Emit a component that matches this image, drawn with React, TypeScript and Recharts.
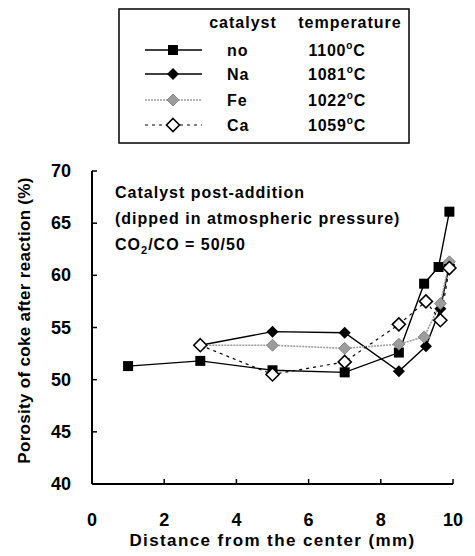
import React from "react";
import { ComposedChart, Line, XAxis, YAxis, Customized } from "recharts";

// porosity (%) vs. distance from the center (mm), one pair of arrays per catalyst
const distNo = [1, 3, 5, 7, 8.5, 9.2, 9.6, 9.9];
const porNo = [51.3, 51.8, 50.9, 50.7, 52.6, 59.2, 60.8, 66.1];
const distNa = [3, 5, 7, 8.5, 9.25, 9.65, 9.9];
const porNa = [53.3, 54.6, 54.5, 50.8, 53.2, 56.8, 61.0];
const distFe = [3, 5, 7, 8.5, 9.2, 9.65, 9.9];
const porFe = [53.3, 53.3, 53.0, 53.4, 54.1, 57.3, 61.3];
const distCa = [3, 5, 7, 8.5, 9.25, 9.65, 9.9];
const porCa = [53.3, 50.5, 51.7, 55.3, 57.5, 55.7, 60.7];

const catalysts = ["no", "Na", "Fe", "Ca"];
const temperatures = [1100, 1081, 1022, 1059];

const xTicks = [0, 2, 4, 6, 8, 10];
const yTicks = [40, 45, 50, 55, 60, 65, 70];

const FONT = "'Liberation Sans', Arial, sans-serif";
const GRAY = "#9c9c9c";

const pts = (xs: number[], ys: number[]) => xs.map((x, i) => ({ x, y: ys[i] }));

type Marker = "square" | "diamond" | "grayDiamond" | "openDiamond";

function drawMarker(kind: Marker, cx: number, cy: number, key?: string | number) {
  if (kind === "square") {
    return <rect key={key} x={cx - 5} y={cy - 5} width={10} height={10} fill="#000" />;
  }
  const r = kind === "openDiamond" ? 6.5 : 6;
  const d = `M${cx},${cy - r}L${cx + r},${cy}L${cx},${cy + r}L${cx - r},${cy}Z`;
  if (kind === "diamond") return <path key={key} d={d} fill="#000" />;
  if (kind === "grayDiamond") return <path key={key} d={d} fill={GRAY} stroke="#777" strokeWidth={0.8} />;
  return <path key={key} d={d} fill="#fff" stroke="#000" strokeWidth={1.6} />;
}

const series = [
  { name: catalysts[0], temp: temperatures[0], data: pts(distNo, porNo), stroke: "#000", width: 1.4, dash: undefined, marker: "square" as Marker },
  { name: catalysts[1], temp: temperatures[1], data: pts(distNa, porNa), stroke: "#000", width: 1.4, dash: undefined, marker: "diamond" as Marker },
  { name: catalysts[2], temp: temperatures[2], data: pts(distFe, porFe), stroke: GRAY, width: 1.6, dash: "2 1", marker: "grayDiamond" as Marker },
  { name: catalysts[3], temp: temperatures[3], data: pts(distCa, porCa), stroke: "#000", width: 1.2, dash: "3 4", marker: "openDiamond" as Marker },
];

const txt = { fontFamily: FONT, fontWeight: 700, fill: "#000" } as const;

function LegendBox() {
  const rowY = [50, 74, 100, 125];
  return (
    <g>
      <rect x={119} y={9} width={290} height={134} fill="#fff" stroke="#000" strokeWidth={1.5} />
      <text {...txt} x={243} y={28} fontSize={16} letterSpacing={1} textAnchor="middle">catalyst</text>
      <text {...txt} x={350} y={28} fontSize={16} letterSpacing={1} textAnchor="middle">temperature</text>
      {series.map((s, i) => (
        <g key={s.name}>
          <line x1={145} x2={202} y1={rowY[i]} y2={rowY[i]} stroke={s.stroke} strokeWidth={s.width} strokeDasharray={s.dash} />
          {drawMarker(s.marker, 173, rowY[i])}
          <text {...txt} x={227} y={rowY[i] + 6} fontSize={16} letterSpacing={1}>{s.name}</text>
          <text {...txt} x={337} y={rowY[i] + 6} fontSize={16} letterSpacing={0.8} textAnchor="middle">
            {s.temp}
            <tspan dy={-7} fontSize={10}>o</tspan>
            <tspan dy={7}>C</tspan>
          </text>
        </g>
      ))}
    </g>
  );
}

function Note() {
  return (
    <g>
      <text {...txt} x={115} y={198} fontSize={16} letterSpacing={1}>Catalyst post-addition</text>
      <text {...txt} x={115} y={224} fontSize={16} letterSpacing={1}>(dipped in atmospheric pressure)</text>
      <text {...txt} x={115} y={250} fontSize={16} letterSpacing={1}>
        CO<tspan dy={4} fontSize={11}>2</tspan>
        <tspan dy={-4}>/CO = 50/50</tspan>
      </text>
    </g>
  );
}

// bold tick numbers, drawn by hand so the weight is always applied
function XTick({ x, y, payload }: any) {
  return (
    <text {...txt} x={x} y={y + 13} fontSize={18} textAnchor="middle">{payload.value}</text>
  );
}
function YTick({ x, y, payload }: any) {
  return (
    <text {...txt} x={x} y={y + 6} fontSize={18} textAnchor="end">{payload.value}</text>
  );
}

const axisLine = { stroke: "#000", strokeWidth: 2 };
const tickLine = { stroke: "#000", strokeWidth: 1.5 };

export default function App() {
  return (
    <div style={{ position: "absolute", left: 0, top: 0, width: 475, height: 556, background: "#fff", fontFamily: FONT }}>
      <ComposedChart width={475} height={556} margin={{ top: 171, right: 22, bottom: 0, left: 0 }}>
        <XAxis
          type="number"
          dataKey="x"
          domain={[0, 10]}
          ticks={xTicks}
          interval={0}
          height={72}
          axisLine={axisLine}
          tickLine={tickLine}
          tickSize={-5}
          tickMargin={34}
          tick={XTick}
          label={{
            value: "Distance from the center (mm)",
            position: "insideBottom",
            offset: 10,
            style: { fontSize: 17, fontWeight: 700, fill: "#000", fontFamily: FONT, letterSpacing: 1.4 },
          }}
        />
        <XAxis xAxisId="top" orientation="top" type="number" domain={[0, 10]} height={0} axisLine={axisLine} tick={false} tickLine={false} />
        <YAxis
          type="number"
          domain={[40, 70]}
          ticks={yTicks}
          interval={0}
          width={92}
          axisLine={axisLine}
          tickLine={tickLine}
          tickSize={-5}
          tickMargin={26}
          tick={YTick}
          label={{
            value: "Porosity of coke after reaction (%)",
            angle: -90,
            position: "center",
            dx: -22,
            dy: -7,
            style: { fontSize: 17, fontWeight: 700, fill: "#000", fontFamily: FONT, letterSpacing: 0.3 },
          }}
        />
        <YAxis yAxisId="right" orientation="right" type="number" domain={[40, 70]} width={0} axisLine={axisLine} tick={false} tickLine={false} />
        {series.map((s) => (
          <Line
            key={s.name}
            data={s.data}
            dataKey="y"
            type="linear"
            stroke={s.stroke}
            strokeWidth={s.width}
            strokeDasharray={s.dash}
            isAnimationActive={false}
            dot={(p: any) => drawMarker(s.marker, p.cx, p.cy, `${s.name}-${p.index}`)}
            activeDot={false}
          />
        ))}
        <Customized component={LegendBox} />
        <Customized component={Note} />
      </ComposedChart>
    </div>
  );
}
